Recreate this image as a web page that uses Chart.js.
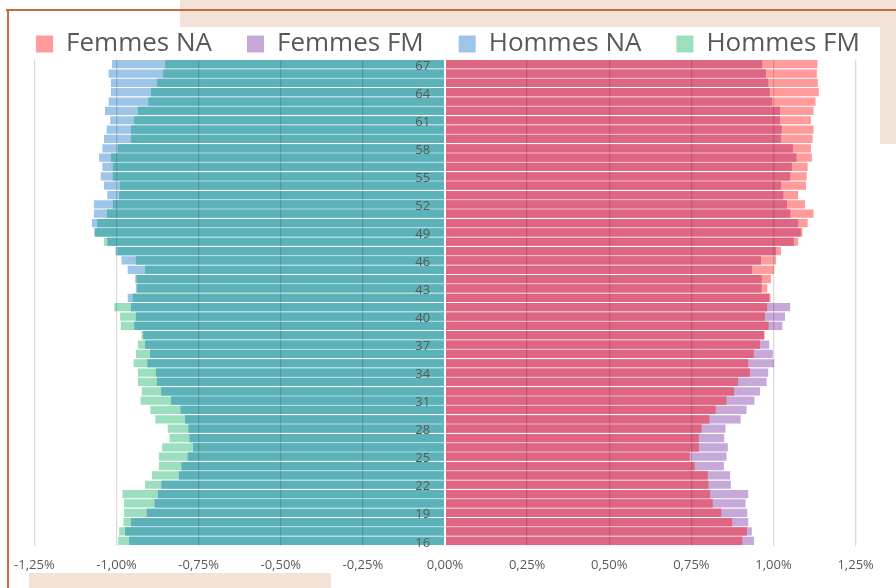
<!DOCTYPE html>
<html>
<head>
<meta charset="utf-8">
<script src="https://cdn.jsdelivr.net/npm/chart.js@4.4.1/dist/chart.umd.min.js"></script>
<style>
  body { margin: 0; background: #fff; }
  #wrap { position: relative; width: 896px; height: 588px; overflow: hidden; background: #fff; }
  .deco { position: absolute; background: #f3e2d8; }
  .line { position: absolute; background: #c96a45; }
  #box { position: absolute; left: 8px; top: 27px; width: 872px; height: 546px; background: #fff; }
  canvas { position: absolute; left: 0; top: 0; }
</style>
</head>
<body>
<div id="wrap">
  <div class="deco" style="left:180px;top:0;width:716px;height:27px"></div>
  <div class="deco" style="left:870px;top:10px;width:26px;height:134px"></div>
  <div class="deco" style="left:29px;top:573px;width:302px;height:15px"></div>
  <div id="box"></div>
  <div class="line" style="left:6px;top:9px;width:890px;height:2px"></div>
  <div class="line" style="left:7px;top:9px;width:2px;height:579px"></div>
  <canvas id="pyramide" width="896" height="588"></canvas>
</div>
<script>
// ages du haut vers le bas
const ages = [67, 66, 65, 64, 63, 62, 61, 60, 59, 58, 57, 56, 55, 54, 53, 52, 51, 50, 49, 48,
  47, 46, 45, 44, 43, 42, 41, 40, 39, 38, 37, 36, 35, 34, 33, 32, 31, 30, 29, 28,
  27, 26, 25, 24, 23, 22, 21, 20, 19, 18, 17, 16];

// valeurs en % (hommes affichés à gauche)
const hommesNA = [1.014, 1.024, 1.017, 1.017, 1.024, 1.035, 1.019, 1.030, 1.038, 1.043,
  1.053, 1.043, 1.048, 1.038, 1.028, 1.069, 1.069, 1.075, 1.068, 1.028,
  1.003, 0.985, 0.966, 0.943, 0.941, 0.966, 0.956, 0.941, 0.946, 0.919,
  0.913, 0.898, 0.906, 0.880, 0.877, 0.864, 0.834, 0.805, 0.791, 0.781,
  0.778, 0.767, 0.783, 0.802, 0.810, 0.863, 0.874, 0.884, 0.908, 0.956,
  0.974, 0.961];
const hommesFM = [0.852, 0.858, 0.877, 0.895, 0.903, 0.935, 0.946, 0.956, 0.956, 0.996,
  1.017, 1.011, 1.011, 0.990, 0.992, 1.011, 1.029, 1.059, 1.065, 1.038,
  0.997, 0.941, 0.913, 0.939, 0.937, 0.951, 1.007, 0.989, 0.987, 0.924,
  0.935, 0.941, 0.948, 0.935, 0.935, 0.923, 0.927, 0.897, 0.882, 0.844,
  0.839, 0.861, 0.871, 0.871, 0.892, 0.913, 0.982, 0.977, 0.977, 0.979,
  0.992, 0.995];
const femmesNA = [1.134, 1.132, 1.135, 1.138, 1.128, 1.122, 1.114, 1.122, 1.119, 1.114,
  1.117, 1.104, 1.101, 1.099, 1.075, 1.096, 1.122, 1.104, 1.088, 1.075,
  1.023, 1.008, 1.002, 0.992, 0.981, 0.991, 0.981, 0.974, 0.985, 0.973,
  0.959, 0.940, 0.923, 0.928, 0.892, 0.880, 0.857, 0.824, 0.805, 0.781,
  0.773, 0.773, 0.745, 0.760, 0.800, 0.802, 0.807, 0.815, 0.841, 0.874,
  0.919, 0.905];
const femmesFM = [0.966, 0.977, 0.984, 0.989, 0.996, 1.020, 1.020, 1.025, 1.023, 1.059,
  1.070, 1.056, 1.051, 1.023, 1.030, 1.041, 1.051, 1.075, 1.083, 1.062,
  1.008, 0.962, 0.935, 0.964, 0.964, 0.987, 1.051, 1.035, 1.027, 0.971,
  0.987, 0.998, 1.002, 0.984, 0.979, 0.959, 0.942, 0.918, 0.900, 0.854,
  0.850, 0.861, 0.857, 0.849, 0.868, 0.870, 0.923, 0.915, 0.920, 0.923,
  0.934, 0.941];

const xTicks = [-1.25, -1, -0.75, -0.5, -0.25, 0, 0.25, 0.5, 0.75, 1, 1.25];

const police = "'Open Sans', 'Liberation Sans', sans-serif";
const gris = "#595959";

function barres(label, data, couleur, ordre, commun) {
  return {
    label: label,
    data: data,
    backgroundColor: couleur,
    borderWidth: 0,
    grouped: false,
    barPercentage: 0.88,
    categoryPercentage: 1,
    order: ordre,
    commun: commun
  };
}

const negatif = arr => arr.map(v => -v);
const minimum = (a, b) => a.map((v, i) => Math.min(v, b[i]));

new Chart(document.getElementById("pyramide"), {
  type: "bar",
  data: {
    labels: ages,
    datasets: [
      barres("Femmes NA", femmesNA, "#ff9b9b", 1, false),
      barres("Femmes FM", femmesFM, "#c6a9d9", 1, false),
      barres("Hommes NA", negatif(hommesNA), "#9dc5e8", 1, false),
      barres("Hommes FM", negatif(hommesFM), "#9cdfbf", 1, false),
      barres("Femmes", minimum(femmesNA, femmesFM), "#de6682", 0, true),
      barres("Hommes", negatif(minimum(hommesNA, hommesFM)), "#5bb2b9", 0, true)
    ]
  },
  options: {
    indexAxis: "y",
    responsive: false,
    animation: false,
    layout: { padding: { left: 0, right: 0, top: -4, bottom: 2.9 } },
    plugins: {
      tooltip: { enabled: false },
      legend: {
        position: "top",
        maxHeight: 63.5,
        labels: {
          boxWidth: 17,
          boxHeight: 17,
          padding: 35,
          color: gris,
          font: { family: police, size: 26 },
          filter: (item, data) => !data.datasets[item.datasetIndex].commun
        }
      }
    },
    scales: {
      x: {
        type: "linear",
        min: -1.25,
        max: 1.25,
        afterBuildTicks: axis => { axis.ticks = xTicks.map(v => ({ value: v })); },
        afterFit: axis => { axis.paddingLeft = 34.4; axis.paddingRight = 40.4; },
        grid: {
          z: 1,
          drawTicks: false,
          lineWidth: ctx => ctx.tick && ctx.tick.value === 0 ? 2 : 1.3,
          color: ctx => ctx.tick && ctx.tick.value === 0 ? "rgba(255,255,255,0.75)" : "rgba(0,0,0,0.14)"
        },
        border: { display: false },
        ticks: {
          padding: 12,
          color: gris,
          font: { family: police, size: 13 },
          callback: v => (Math.abs(v) < 1e-9 ? 0 : v).toFixed(2).replace(".", ",") + "%"
        }
      },
      y: {
        position: { x: -0.045 },
        grid: { display: false },
        border: { display: false },
        ticks: {
          z: 2,
          autoSkip: false,
          padding: 0,
          labelOffset: 2,
          color: gris,
          font: { family: police, size: 13 },
          callback: function (v, i) {
            const age = ages[i];
            return (age - 16) % 3 === 0 ? String(age) : "";
          }
        }
      }
    }
  }
});
</script>
</body>
</html>
